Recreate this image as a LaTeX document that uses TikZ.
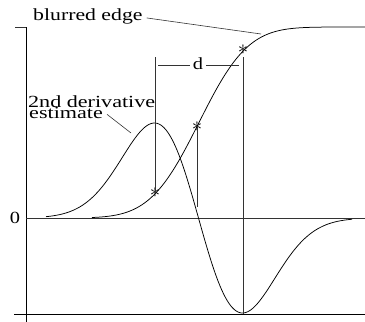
\documentclass[tikz,border=0pt]{standalone}
\usepackage{fontspec}
\setmainfont{Liberation Serif}
\begin{document}
\begin{tikzpicture}[x=1pt,y=-1pt,
  ln/.style={line width=0.6pt,black!80},
  axis/.style={line width=0.9pt,black},
  curve/.style={line width=0.75pt,black},
  lbl/.style={inner sep=0pt,font=\fontsize{17}{18}\selectfont},
  starnode/.style={inner sep=0pt,font=\fontsize{20}{20}\selectfont}]
\useasboundingbox (0,0) rectangle (365,322);
% axes
\coordinate (ttl) at (15,27);
\coordinate (tt) at (26,27);
\coordinate (vb) at (26,322);
\coordinate (bl) at (14,314);
\coordinate (br) at (365,314);
\coordinate (zl) at (26,218);
\coordinate (zr) at (365,218);
\draw[axis] (tt) -- (vb);
\draw[ln] (ttl) -- (tt);
\draw[axis] (bl) -- (br);
\draw[ln] (zl) -- (zr);
\node[lbl,anchor=base] (zero) at (15,223.5) {\scalebox{1.2}[1]{0}};
% blurred edge (sigmoid)
\draw[curve] plot[domain=92:365,samples=160,smooth]
  (\x,{218-191/(1+exp(-(1.5976*((\x-199)/38.5)+0.07056*((\x-199)/38.5)^3)))});
% second derivative estimate
\draw[curve] plot[domain=46:352,samples=180,smooth]
  (\x,{218+95*((\x-198.5)/44)*exp(0.5-0.5*((\x-198.5)/44)^2)});
% asterisks
\node[starnode] (s1) at (155,193) {$\ast$};
\node[starnode] (s2) at (197,127) {$\ast$};
\node[starnode] (s3) at (243,50) {$\ast$};
% vertical markers
\coordinate (v1t) at (155,57);
\coordinate (v2b) at (197,207);
\coordinate (v3t) at (243,57);
\coordinate (v3b) at (243,314);
\draw[ln] (v1t) -- (s1.center);
\draw[ln] (s2.center) -- (v2b);
\draw[ln] (v3t) -- (v3b);
% dimension d
\node[lbl] (d) at (198,64) {\scalebox{1.2}[1]{d}};
\coordinate (dl) at (158,65);
\coordinate (dr) at (239,65);
\draw[ln] (dl) -- ([xshift=-3pt]d.west |- dl);
\draw[ln] ([xshift=3pt]d.east |- dr) -- (dr);
% labels
\node[lbl,anchor=base west] (be) at (33,20) {\scalebox{1.28}[1]{blurred edge}};
\coordinate (bep) at (261,34);
\draw[ln] ([xshift=4pt,yshift=-2pt]be.east) -- (bep);
\node[lbl,anchor=base west] (de1) at (28,107) {\scalebox{1.3}[1]{2nd derivative}};
\node[lbl,anchor=base west] (de2) at (29,118) {\scalebox{1.3}[1]{estimate}};
\coordinate (dep) at (131,133);
\draw[ln] ([xshift=4pt,yshift=4pt]de2.south east) -- (dep);
\end{tikzpicture}
\end{document}
